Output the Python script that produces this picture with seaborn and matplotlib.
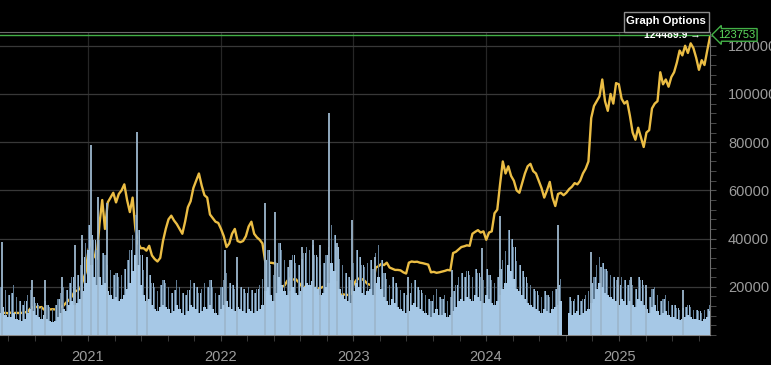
import matplotlib
matplotlib.use("Agg")
import matplotlib.pyplot as plt
import matplotlib.dates as mdates
from matplotlib.patches import Rectangle
from matplotlib.ticker import FixedLocator, MultipleLocator
import pandas as pd
import seaborn as sns

plt.rcParams['font.family'] = ['Liberation Sans', 'DejaVu Sans']

# weekly closes, May 2020 -> Sep 2025 (4 per month)
price = [
    9000, 9100, 9200, 9000, 9300, 9100, 9200, 9100, 9200, 9400, 9600, 11000,
    11500, 11700, 11400, 11600, 10500, 10300, 10600, 10700, 10600, 11300, 11500, 12200,
    13500, 14500, 16000, 18000, 18500, 19200, 22500, 26000,
    # 2021
    35000, 39500, 33000, 31500, 46000, 56000, 44000, 55000, 57000, 59000, 55000, 58500,
    60000, 62500, 56000, 51000, 57000, 44000, 38000, 36000, 36000, 35000, 37000, 33000,
    31500, 30500, 32000, 39000, 44000, 48000, 49500, 47500, 46000, 44000, 42000, 47000,
    53000, 55500, 61000, 64000, 67000, 62000, 58000, 57000, 50000, 48500, 47000, 46500,
    # 2022
    44000, 41000, 36500, 38000, 42000, 44000, 39000, 38500, 39000, 41000, 45000, 47000,
    42000, 40500, 39500, 38000, 30500, 29500, 30000, 29800, 29500, 21000, 20000, 20500,
    22500, 23500, 23000, 23200, 22000, 20500, 19800, 20300, 19500, 19200, 19600, 19300,
    19500, 20000, 20500, 20200, 16800, 16500, 16600, 16400, 16900, 16700, 16600, 17000,
    # 2023
    21000, 22800, 23500, 23200, 22500, 21200, 20800, 21000, 28000, 28500, 29500, 29000,
    30000, 28000, 27500, 27000, 27000, 26800, 26000, 25500, 30000, 30500, 30300, 30400,
    30000, 29800, 29500, 29200, 26000, 26200, 25800, 26000, 26300, 26600, 27000, 26800,
    34000, 34500, 35500, 36500, 36800, 37200, 37000, 42000, 42800, 43500, 42500, 43000,
    # 2024
    39500, 42500, 43000, 50500, 52000, 62500, 72000, 67000, 70000, 66000, 64000, 60000,
    59000, 63000, 67000, 70000, 71000, 68000, 67000, 64000, 61000, 57000, 60000, 63500,
    57000, 53500, 58500, 59000, 58000, 59000, 60500, 61500, 63000, 62500, 64000, 67000,
    69000, 72000, 90000, 95000, 97000, 99000, 106000, 97000, 93000, 100000, 96000, 104500,
    # 2025
    104000, 98000, 96000, 97000, 91000, 84000, 81000, 86000, 82000, 78000, 84000, 85000,
    94000, 96000, 97000, 109000, 104000, 106000, 103000, 107000, 109000, 113000, 118000, 116000,
    120000, 117000, 121000, 119000, 115000, 110000, 114000, 112000, 118000, 123753,
]

# weekly volume, typical level (relative units)
volume = [
    22, 28, 20, 18, 18, 22, 16, 15, 14, 16, 22, 26, 24, 20, 18, 16,
    20, 16, 14, 13, 14, 18, 22, 26, 24, 30, 34, 30, 32, 36, 44, 52,
    # 2021
    85, 70, 58, 50, 58, 50, 52, 44, 40, 36, 38, 34, 36, 40, 46, 52,
    64, 80, 70, 50, 40, 34, 36, 30, 26, 24, 28, 30, 28, 26, 22, 24,
    30, 26, 22, 20, 24, 30, 28, 26, 22, 24, 28, 26, 30, 26, 22, 20,
    # 2022
    26, 30, 34, 28, 26, 24, 28, 26, 24, 22, 26, 24, 22, 24, 26, 30,
    44, 48, 40, 34, 42, 58, 50, 44, 40, 44, 48, 42, 40, 44, 48, 52,
    50, 54, 48, 46, 40, 42, 48, 52, 72, 64, 54, 46, 40, 36, 34, 32,
    # 2023
    44, 52, 48, 42, 40, 44, 46, 40, 52, 58, 46, 38, 34, 30, 36, 32,
    28, 26, 24, 22, 24, 30, 32, 28, 26, 24, 22, 20, 18, 22, 26, 20,
    20, 22, 18, 20, 24, 28, 34, 36, 34, 38, 36, 34, 40, 38, 34, 32,
    # 2024
    40, 36, 32, 30, 34, 40, 46, 52, 70, 64, 56, 46, 44, 40, 36, 32,
    30, 28, 26, 24, 22, 26, 24, 22, 26, 28, 30, 34, 0, 0, 22, 20,
    22, 24, 20, 22, 24, 26, 32, 36, 46, 52, 48, 42, 40, 38, 36, 34,
    # 2025
    30, 36, 34, 30, 34, 30, 28, 36, 34, 30, 26, 22, 28, 30, 24, 20,
    22, 24, 20, 18, 18, 16, 15, 16, 18, 20, 18, 16, 16, 15, 14, 16,
    18, 24,
]

# weekly volume, busiest day of the week
volume_high = [
    48, 55, 45, 40, 42, 50, 38, 34, 30, 34, 40, 45, 38, 32, 30, 28,
    34, 30, 28, 26, 30, 36, 42, 48, 45, 52, 58, 55, 60, 70, 78, 92,
    # 2021
    110, 100, 95, 85, 95, 82, 80, 70, 65, 60, 62, 58, 60, 66, 75, 85,
    100, 120, 105, 80, 65, 58, 60, 52, 48, 44, 50, 55, 52, 48, 42, 45,
    55, 48, 42, 40, 45, 55, 52, 48, 42, 46, 52, 48, 55, 48, 42, 40,
    # 2022
    48, 55, 62, 52, 50, 46, 52, 48, 46, 42, 48, 45, 42, 46, 50, 56,
    75, 85, 70, 60, 72, 92, 85, 75, 68, 75, 80, 72, 70, 76, 82, 88,
    85, 90, 80, 78, 70, 72, 80, 88, 110, 100, 88, 76, 70, 62, 58, 55,
    # 2023
    72, 85, 78, 70, 68, 72, 75, 66, 82, 90, 75, 62, 56, 50, 58, 52,
    48, 45, 42, 40, 42, 52, 55, 48, 45, 42, 40, 36, 34, 40, 46, 38,
    36, 40, 34, 38, 44, 50, 58, 62, 58, 64, 60, 58, 66, 62, 58, 55,
    # 2024
    66, 60, 55, 52, 58, 66, 75, 84, 105, 96, 88, 74, 70, 64, 58, 52,
    50, 46, 44, 40, 38, 44, 40, 38, 44, 46, 50, 56, 0, 0, 38, 34,
    36, 40, 34, 36, 40, 44, 52, 58, 70, 78, 72, 66, 64, 60, 58, 55,
    # 2025
    50, 58, 55, 50, 55, 50, 46, 58, 55, 50, 44, 38, 46, 48, 40, 34,
    36, 40, 34, 30, 30, 27, 25, 27, 28, 30, 28, 25, 25, 24, 22, 25,
    26, 30,
]

spike_dates = [
    "2020-05-09", "2020-07-30", "2020-09-04", "2020-10-21", "2020-11-26", "2020-12-15",
    "2021-01-09", "2021-01-28", "2021-02-22", "2021-05-15", "2021-06-12",
    "2022-01-13", "2022-02-15", "2022-05-03", "2022-05-31", "2022-07-11", "2022-08-13",
    "2022-09-12", "2022-10-02", "2022-10-27", "2022-11-17", "2022-12-28",
    "2023-03-02", "2023-06-01", "2023-09-30", "2023-12-21", "2024-02-09", "2024-07-16",
    "2024-10-16", "2024-11-12", "2024-12-28", "2025-02-03", "2025-03-16", "2025-06-26",
]
spike_vol = [
    93, 55, 55, 58, 90, 100,
    190, 138, 132, 203, 78,
    85, 78, 132, 123, 75, 88,
    95, 90, 222, 92, 115,
    78, 58, 65, 87, 119, 110,
    83, 68, 58, 58, 50, 45,
]

yticks = [20000, 40000, 60000, 80000, 100000, 120000]
high_price = 124489.9
last_price = 123753

dates = pd.date_range("2020-05-04", "2025-09-08", periods=len(price))
spikes = pd.to_datetime(spike_dates)

fig = plt.figure(figsize=(7.71, 3.65), dpi=100, facecolor="black")
ax = fig.add_axes([0, 30 / 365, 710 / 771, 303 / 365])
ax.set_facecolor("black")
axv = ax.twinx()

sns.lineplot(x=dates, y=price, ax=ax, color="#ebbd44", linewidth=1.7, zorder=3)
ax.set_xlim(dates[0], dates[-1])
ax.set_ylim(0, 125700)
ax.set_xlabel("")
ax.set_ylabel("")

# volume sits on top of the price line
axv.bar(dates, volume_high, width=3.0, color="#5f7a92", linewidth=0)
axv.bar(dates + pd.Timedelta(days=3.8), volume_high, width=1.6, color="#9cbcd8", linewidth=0)
axv.bar(dates, volume, width=7.7, color="#a6c8e6", linewidth=0)
axv.vlines(spikes, 0, spike_vol, color="#9db7cd", linewidth=1.3)
axv.set_ylim(0, 303)
axv.set_yticks([])
for s in axv.spines.values():
    s.set_visible(False)

ax.yaxis.tick_right()
ax.yaxis.set_major_locator(FixedLocator(yticks))
ax.yaxis.set_minor_locator(MultipleLocator(4000))
ax.yaxis.set_major_formatter(lambda v, p: f"{v:.0f}")
ax.tick_params(axis="y", which="both", left=False, right=True, length=4, color="#555555",
               labelcolor="#9c9c9c", labelsize=10.5, pad=9)

minor_x = [mdates.date2num(pd.Timestamp(f"{y}-01-01") + pd.Timedelta(days=73 * j))
           for y in range(2020, 2026) for j in range(5)]
ax.xaxis.set_major_locator(mdates.YearLocator())
ax.xaxis.set_major_formatter(mdates.DateFormatter("%Y"))
ax.xaxis.set_minor_locator(FixedLocator(minor_x))
ax.tick_params(axis="x", which="both", bottom=True, length=4, color="#444444",
               labelcolor="#9c9c9c", labelsize=10.5, pad=7)

ax.grid(axis="y", which="major", color="#383838", linewidth=0.9)
ax.grid(axis="x", which="major", color="#262626", linewidth=0.9)
ax.set_axisbelow(True)

ax.spines["left"].set_visible(False)
ax.spines["bottom"].set_color("#8a8a8a")
ax.spines["right"].set_color("#6e6e6e")
ax.spines["top"].set_color("#6a6a6a")

# high line and labels
ax.axhline(high_price, color="#43b047", linewidth=1.0, zorder=5)
ax.text(0.987, high_price, f"{high_price} \u2192", transform=ax.get_yaxis_transform(),
        ha="right", va="center", color="white", fontsize=7.5, fontweight="bold", zorder=6)
ax.text(1.012, high_price, f"{last_price}", transform=ax.get_yaxis_transform(),
        ha="left", va="center", color="#5ddb5d", fontsize=8, clip_on=False, zorder=10,
        bbox=dict(boxstyle="larrow,pad=0.12", fc="black", ec="#43b047", lw=1))

fig.add_artist(Rectangle((624 / 771, 1 - 32 / 365), 85 / 771, 20 / 365, transform=fig.transFigure,
                         facecolor="black", edgecolor="#8c8c8c", linewidth=1))
fig.text(666 / 771, 1 - 21 / 365, "Graph Options", ha="center", va="center",
         color="white", fontsize=8.2, fontweight="bold")

fig.savefig("out.png", dpi=100, facecolor="black")
